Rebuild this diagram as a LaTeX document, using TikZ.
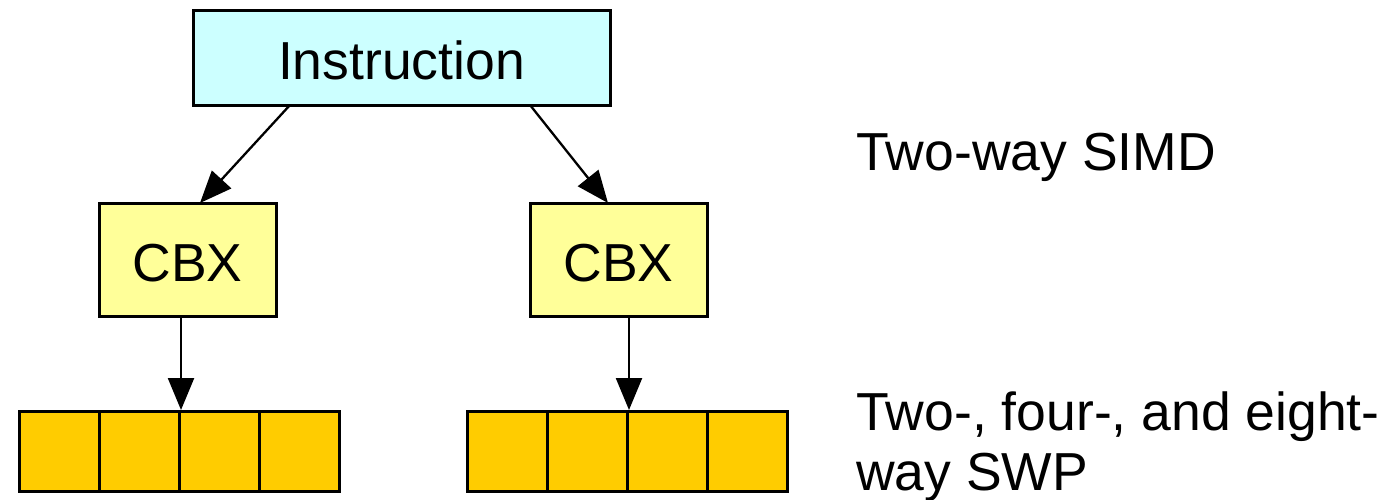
\documentclass[tikz,border=0pt]{standalone}
\usepackage{fontspec}
\setmainfont{Liberation Sans}
\usetikzlibrary{arrows.meta}
\definecolor{instfill}{HTML}{CCFFFF}
\definecolor{cbxfill}{HTML}{FFFF99}
\definecolor{cellfill}{HTML}{FFCC00}
\begin{document}
\begin{tikzpicture}[x=1pt,y=-1pt,
  box/.style={draw=black,line width=3pt,inner sep=0pt,font=\fontsize{53.5}{60}\selectfont,text height=44pt,text depth=0pt},
  cell/.style={draw=black,line width=3pt,fill=cellfill,minimum width=80pt,minimum height=80pt,inner sep=0pt,anchor=north west},
  conn/.style={line width=2.3pt,-{Triangle[length=32pt,width=26pt]}},
  lbl/.style={font=\fontsize{53.5}{60}\selectfont,inner sep=0pt,anchor=base west}]
\useasboundingbox (0,0) rectangle (1399,499);
\node[box,fill=instfill,minimum width=417pt,minimum height=95pt] (inst) at (401.5,57.5) {Instruction};
\node[box,fill=cbxfill,minimum width=177pt,minimum height=113pt] (cbxL) at (187.5,259.5) {CBX};
\node[box,fill=cbxfill,minimum width=177pt,minimum height=113pt] (cbxR) at (618.5,259.5) {CBX};
\foreach \i in {0,1,2,3}{
  \node[cell] (L\i) at (18+\i*80,410) {};
  \node[cell] (R\i) at (466+\i*80,410) {};
}
\coordinate (iL) at (290,105);
\coordinate (iR) at (530,105);
\draw[conn] (iL) -- (200,203) coordinate (cL);
\draw[conn] (iR) -- (608,203) coordinate (cR);
\draw[conn] (cbxL.south -| L1.north east) -- (L1.north east);
\draw[conn] (cbxR.south -| R1.north east) -- (R1.north east);
\node[lbl] (simd) at (856,170) {Two-way SIMD};
\node[lbl] (swp1) at (856,430) {Two-, four-, and eight-};
\node[lbl] (swp2) at (856,490) {way SWP};
\end{tikzpicture}
\end{document}
